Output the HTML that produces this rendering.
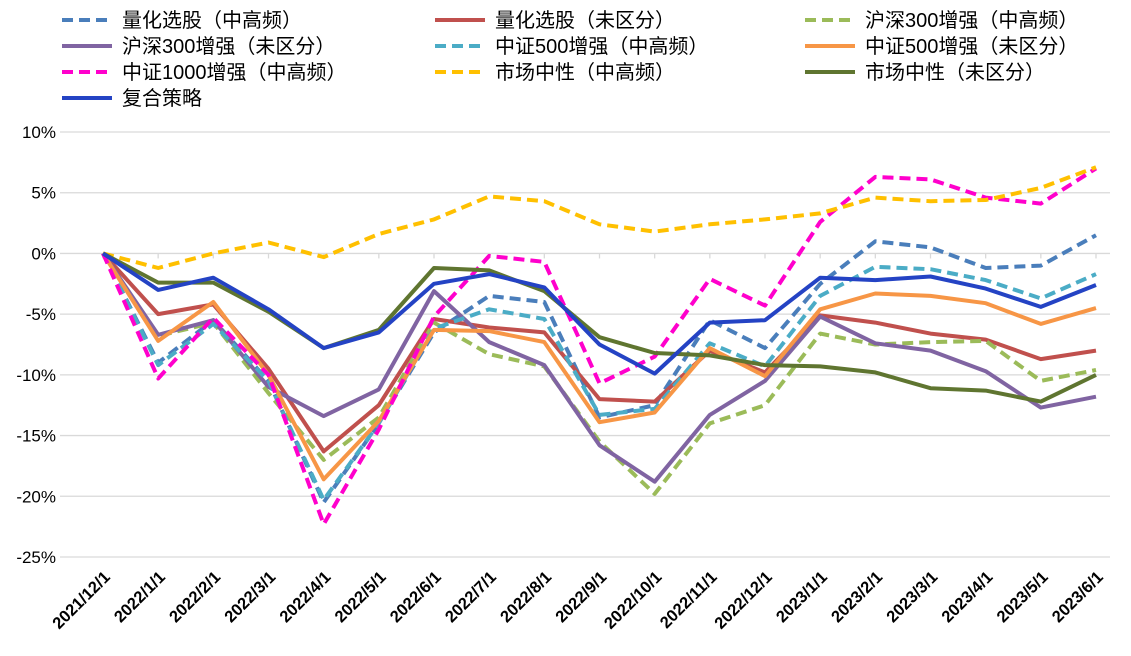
<!DOCTYPE html>
<html><head><meta charset="utf-8">
<style>
body{margin:0;background:#fff;font-family:"Liberation Sans","Noto Sans CJK SC",sans-serif;}
svg text{font-family:"Liberation Sans","Noto Sans CJK SC",sans-serif;}
</style></head>
<body>
<svg id="chart" width="1131" height="651"></svg>
<script>
const categories=["2021/12/1","2022/1/1","2022/2/1","2022/3/1","2022/4/1","2022/5/1","2022/6/1","2022/7/1","2022/8/1","2022/9/1","2022/10/1","2022/11/1","2022/12/1","2023/1/1","2023/2/1","2023/3/1","2023/4/1","2023/5/1","2023/6/1"];
const yTicks=[10,5,0,-5,-10,-15,-20,-25];
const seriesNames=["量化选股（中高频）","量化选股（未区分）","沪深300增强（中高频）","沪深300增强（未区分）","中证500增强（中高频）","中证500增强（未区分）","中证1000增强（中高频）","市场中性（中高频）","市场中性（未区分）","复合策略"];
const s0=[0,-9,-5.5,-10.5,-20.5,-14,-6.5,-3.5,-4,-13.5,-12.5,-5.5,-7.8,-2.5,1,0.5,-1.2,-1,1.5];
const s1=[0,-5,-4.2,-9.5,-16.3,-12.5,-5.4,-6.1,-6.5,-12,-12.2,-8,-9.8,-5.1,-5.7,-6.6,-7.1,-8.7,-8];
const s2=[0,-6.8,-5.7,-11.5,-17,-13.5,-5.7,-8.3,-9.3,-15.5,-19.8,-14,-12.5,-6.6,-7.5,-7.3,-7.2,-10.5,-9.6];
const s3=[0,-6.7,-5.5,-11,-13.4,-11.2,-3.1,-7.3,-9.2,-15.8,-18.8,-13.3,-10.5,-5.2,-7.4,-8,-9.7,-12.7,-11.8];
const s4=[0,-9.2,-5.8,-10.5,-20.3,-14,-6.2,-4.6,-5.4,-13.3,-12.8,-7.4,-9.3,-3.5,-1.1,-1.3,-2.2,-3.7,-1.7];
const s5=[0,-7.2,-4,-10,-18.6,-13.8,-6.3,-6.4,-7.3,-13.9,-13.1,-7.8,-10.1,-4.6,-3.3,-3.5,-4.1,-5.8,-4.5];
const s6=[0,-10.3,-5.3,-10,-22.3,-14.5,-5.2,-0.2,-0.7,-10.7,-8.5,-2.1,-4.3,2.6,6.3,6.1,4.6,4.1,7];
const s7=[0,-1.2,0,0.9,-0.3,1.6,2.8,4.7,4.3,2.4,1.8,2.4,2.8,3.3,4.6,4.3,4.4,5.4,7.1];
const s8=[0,-2.4,-2.4,-4.8,-7.8,-6.3,-1.2,-1.4,-3.1,-6.9,-8.2,-8.4,-9.2,-9.3,-9.8,-11.1,-11.3,-12.2,-10];
const s9=[0,-3,-2,-4.6,-7.8,-6.5,-2.5,-1.7,-2.8,-7.5,-9.9,-5.7,-5.5,-2,-2.2,-1.9,-2.9,-4.4,-2.6];
const seriesValues=[s0,s1,s2,s3,s4,s5,s6,s7,s8,s9];
const colors=["#4a7ebb","#c0504d","#9bbb59","#8064a2","#4bacc6","#f79646","#ff00cc","#ffc000","#5f7530","#2443c4"];
const dashed=[true,false,true,false,true,false,true,true,false,false];

const NS="http://www.w3.org/2000/svg";
const svg=document.getElementById("chart");
function el(t,a){const e=document.createElementNS(NS,t);for(const k in a)e.setAttribute(k,a[k]);svg.appendChild(e);return e;}
const x0=103,x1=1096,yTop=132,yBot=557;
function xs(i){return x0+(x1-x0)*i/(categories.length-1);}
function ys(v){return yTop+(10-v)*(yBot-yTop)/35;}

yTicks.forEach(t=>{
  const g=el("line",{x1:60,x2:1110,y1:ys(t),y2:ys(t),stroke:"#d9d9d9","stroke-width":1.3});
  
  
  const tx=el("text",{x:56,y:ys(t)+6,"text-anchor":"end","font-size":17,fill:"#000"});
  tx.textContent=t+"%";
  
  
});
categories.forEach((c,i)=>{
  const tk=el("line",{x1:xs(i),x2:xs(i),y1:ys(0),y2:ys(0)+5,stroke:"#d9d9d9","stroke-width":1.3});
  
  
  const tx=el("text",{x:xs(i)+8,y:578,"text-anchor":"end","font-size":16.5,"font-weight":"bold",fill:"#000",transform:`rotate(-45 ${xs(i)+8} 578)`});
  tx.textContent=c;
  
  
});
seriesValues.forEach((vals,k)=>{
  const pts=vals.map((v,i)=>xs(i).toFixed(1)+","+ys(v).toFixed(1)).join(" ");
  const a={points:pts,fill:"none",stroke:colors[k],"stroke-width":4,"stroke-linejoin":"round"};
  if(dashed[k])a["stroke-dasharray"]="11 6";
  const p=el("polyline",a);
  
  
});
seriesNames.forEach((n,k)=>{
  const col=k%3,row=Math.floor(k/3);
  const lx=[62,435,805][col],ly=20+row*26;
  const a={x1:lx,x2:lx+50,y1:ly,y2:ly,stroke:colors[k],"stroke-width":4};
  if(dashed[k])a["stroke-dasharray"]="11 6";
  const l=el("line",a);
  
  
  const t=el("text",{x:lx+60,y:ly+7,"font-size":20,fill:"#000"});
  t.textContent=n;
  
  
});
</script>
</body></html>
